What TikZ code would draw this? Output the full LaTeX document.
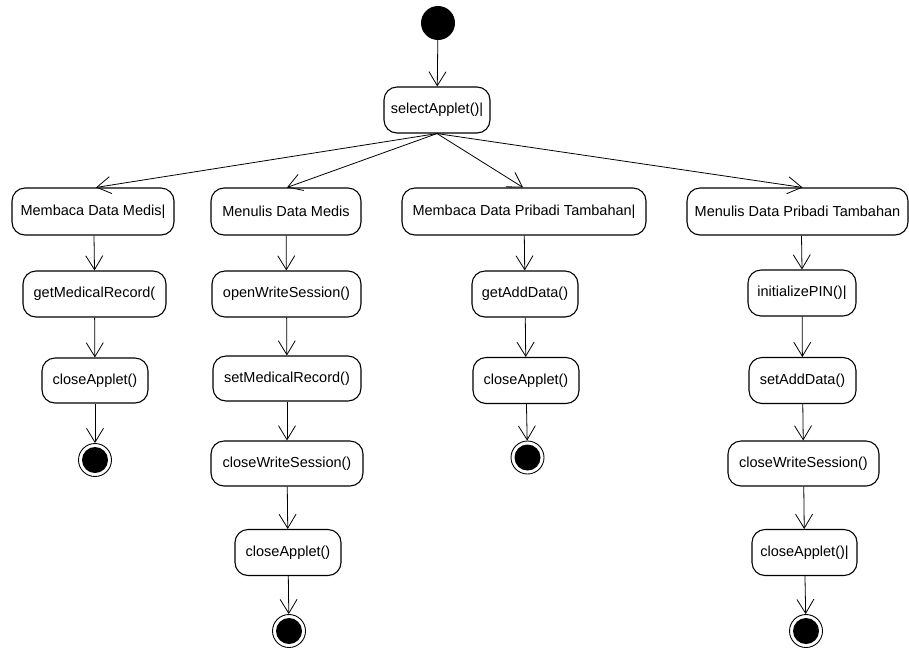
\documentclass[tikz,border=0pt]{standalone}
\usepackage{fontspec}
\setmainfont{Liberation Sans}
\usetikzlibrary{arrows.meta}

\tikzset{
  act/.style={draw, line width=1.1pt, rounded corners=13pt, minimum height=46pt,
    inner sep=0pt, font=\fontsize{14.5}{17}\selectfont},
  startnode/.style={circle, fill=black, minimum size=34pt, inner sep=0pt},
  endnode/.style={circle, draw, line width=0.9pt, minimum size=33pt, inner sep=0pt,
    path picture={\fill (path picture bounding box.center) circle (13pt);}},
  flow/.style={line width=0.8pt,
    -{Straight Barb[length=14pt,width=17pt,line width=0.8pt]}}
}

\begin{document}
\begin{tikzpicture}[x=1pt,y=-1pt]
\useasboundingbox (0,0) rectangle (909,649);

% start and common step
\node[startnode] (start) at (438,23) {};
\node[act, minimum width=106pt] (sel) at (437,110) {selectApplet()|};

% four use cases
\node[act, minimum width=162pt, minimum height=47pt] (mdm) at (93,211.5) {Membaca Data Medis|};
\node[act, minimum width=150pt, minimum height=47pt] (wdm) at (286,211.5) {Menulis Data Medis};
\node[act, minimum width=244pt, minimum height=47pt] (mdp) at (524,211.5) {Membaca Data Pribadi Tambahan|};
\node[act, minimum width=221pt, minimum height=47pt] (wdp) at (797.5,211.5) {Menulis Data Pribadi Tambahan};

% column 1
\node[act, minimum width=143pt] (gmr) at (94.5,294) {getMedicalRecord(};
\node[act, minimum width=106pt, minimum height=45pt] (ca1) at (95,380.5) {closeApplet()};
\node[endnode] (end1) at (95,460) {};

% column 2
\node[act, minimum width=149pt] (ows) at (286.5,294) {openWriteSession()};
\node[act, minimum width=148pt, minimum height=45pt] (smr) at (287,378.5) {setMedicalRecord()};
\node[act, minimum width=152pt, minimum height=45pt] (cws2) at (287,463.5) {closeWriteSession()};
\node[act, minimum width=106pt] (ca2) at (288,552.5) {closeApplet()};
\node[endnode] (end2) at (289,631) {};

% column 3
\node[act, minimum width=106pt] (gad) at (525,294) {getAddData()};
\node[act, minimum width=106pt] (ca3) at (526,380.5) {closeApplet()};
\node[endnode] (end3) at (527.5,457.5) {};

% column 4
\node[act, minimum width=108pt] (ipin) at (802,293) {initializePIN()|};
\node[act, minimum width=107pt] (sad) at (802.5,380.5) {setAddData()};
\node[act, minimum width=151pt, minimum height=45pt] (cws4) at (803.5,463.5) {closeWriteSession()};
\node[act, minimum width=105pt] (ca4) at (804.5,552.5) {closeApplet()|};
\node[endnode] (end4) at (806,631) {};

% transitions
\draw[flow] (start) -- (sel);
\draw[flow] (sel.south) -- ([xshift=3pt]mdm.north);
\draw[flow] (sel.south) -- ([xshift=1pt]wdm.north);
\draw[flow] (sel.south) -- ([xshift=-1pt]mdp.north);
\draw[flow] (sel.south) -- ([xshift=5pt]wdp.north);

\draw[flow] ([xshift=1pt]mdm.south) -- (gmr.north);
\draw[flow] (gmr) -- (ca1);
\draw[flow] (ca1) -- (end1);

\draw[flow] (wdm) -- (ows);
\draw[flow] (ows) -- (smr);
\draw[flow] (smr) -- (cws2);
\draw[flow] (cws2) -- (ca2);
\draw[flow] (ca2) -- (end2);

\draw[flow] (mdp) -- (gad);
\draw[flow] (gad) -- (ca3);
\draw[flow] (ca3) -- (end3);

\draw[flow] ([xshift=4pt]wdp.south) -- (ipin.north);
\draw[flow] (ipin) -- (sad);
\draw[flow] (sad) -- (cws4);
\draw[flow] (cws4) -- (ca4);
\draw[flow] (ca4) -- (end4);
\end{tikzpicture}
\end{document}
